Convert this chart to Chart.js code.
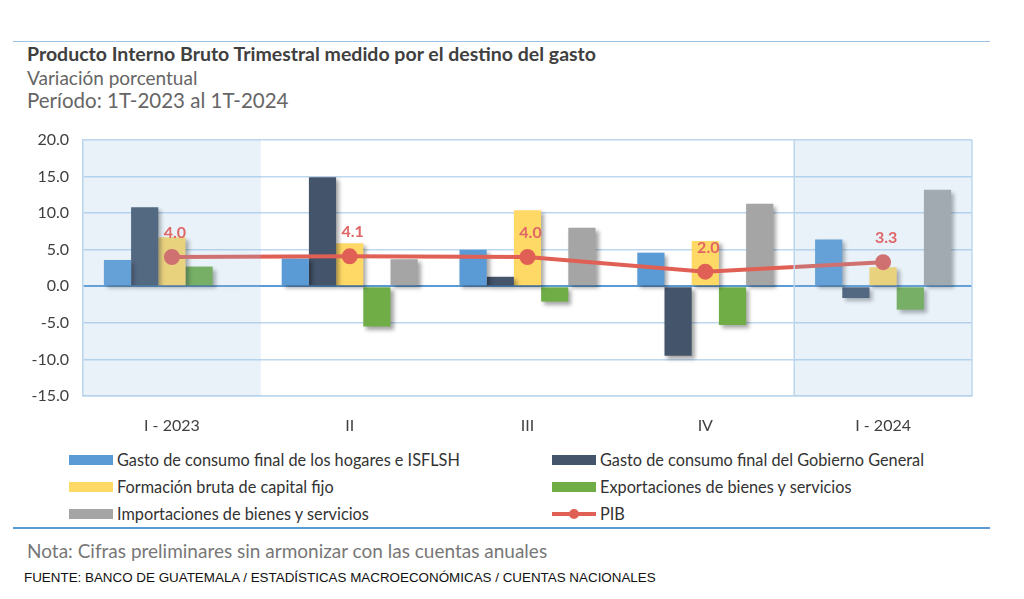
<!DOCTYPE html>
<html>
<head>
<meta charset="utf-8">
<script src="https://cdn.jsdelivr.net/npm/chart.js@4.4.1/dist/chart.umd.min.js"></script>
<style>
  body { margin: 0; background: #fff; font-family: Lato, "Open Sans", sans-serif; }
  #wrap { position: relative; width: 1024px; height: 599px; overflow: hidden; }
  canvas { position: absolute; left: 0; top: 0; }
  .rule { position: absolute; left: 13px; width: 977px; }
  .txt { position: absolute; white-space: nowrap; }
  .leg { position: absolute; display: flex; align-items: center; font-size: 16.3px; color: #333; white-space: nowrap; }
  .sw { width: 44px; height: 10px; margin-right: 4px; }
</style>
</head>
<body>
<div id="wrap">
  <div class="rule" style="top:41px;height:1px;background:#9DC3E6"></div>
  <div class="txt" style="left:27px;top:42px;font-size:19.5px;font-weight:bold;color:#404040">Producto Interno Bruto Trimestral medido por el destino del gasto</div>
  <div class="txt" style="left:27px;top:66px;font-size:19px;color:#666">Variación porcentual</div>
  <div class="txt" style="left:27px;top:88px;font-size:20.5px;color:#666">Período: 1T-2023 al 1T-2024</div>

  <canvas id="pib-chart" width="1024" height="440"></canvas>

  <div class="leg" style="left:69px;top:450px"><span class="sw" style="background:#5B9BD5"></span>Gasto de consumo final de los hogares e ISFLSH</div>
  <div class="leg" style="left:552px;top:450px"><span class="sw" style="background:#44546A"></span>Gasto de consumo final del Gobierno General</div>
  <div class="leg" style="left:69px;top:477px"><span class="sw" style="background:#FFD966"></span>Formación bruta de capital fijo</div>
  <div class="leg" style="left:552px;top:477px"><span class="sw" style="background:#70AD47"></span>Exportaciones de bienes y servicios</div>
  <div class="leg" style="left:69px;top:504px"><span class="sw" style="background:#A5A5A5"></span>Importaciones de bienes y servicios</div>
  <div class="leg" style="left:552px;top:504px"><span class="sw" style="height:4px;background:#E06055;position:relative"><span style="position:absolute;left:17px;top:-3px;width:10px;height:10px;border-radius:50%;background:#E06055"></span></span>PIB</div>

  <div class="rule" style="top:527px;height:2px;background:#5B9BD5"></div>
  <div class="txt" style="left:27px;top:539px;font-size:19px;color:#777">Nota: Cifras preliminares sin armonizar con las cuentas anuales</div>
  <div class="txt" style="left:24px;top:570px;font-size:13.4px;color:#111;font-family:'Liberation Sans Narrow','Liberation Sans',sans-serif">FUENTE: BANCO DE GUATEMALA / ESTADÍSTICAS MACROECONÓMICAS / CUENTAS NACIONALES</div>
</div>

<script>
// PIB trimestral por destino del gasto, variacion %

const quarters = ['I - 2023', 'II', 'III', 'IV', 'I - 2024'];

const hogares = [3.6, 3.8, 5.0, 4.6, 6.4];
const gobierno = [10.8, 14.9, 1.3, -9.5, -1.6];
const capitalFijo = [6.7, 5.9, 10.4, 6.2, 2.6];
const exportaciones = [2.7, -5.5, -2.1, -5.3, -3.2];
const importaciones = [0.1, 3.7, 8.0, 11.3, 13.2];
const pib = [4.0, 4.1, 4.0, 2.0, 3.3];

const yMin = -15;
const yMax = 20;
const yStep = 5;

// quarters shaded in light blue
const shaded = [0, 4];

const gridBlue = '#BDD7EE';

const bar = (label, values, color) => ({
    type: 'bar',
    label: label,
    data: values,
    backgroundColor: color,
    borderWidth: 0,
    barPercentage: 1,
    categoryPercentage: 0.765,
    order: 1
});

const decor = {
    id: 'decor',
    beforeDatasetDraw(chart, args) {
        if (args.meta.type !== 'bar') return;
        const ctx = chart.ctx;
        ctx.save();
        ctx.shadowColor = 'rgba(0,0,0,0.35)';
        ctx.shadowBlur = 4;
        ctx.shadowOffsetX = 3;
        ctx.shadowOffsetY = 3;
    },
    afterDatasetDraw(chart, args) {
        if (args.meta.type !== 'bar') return;
        chart.ctx.restore();
    },
    afterDatasetsDraw(chart) {
        const ctx = chart.ctx;
        const area = chart.chartArea;
        const x = chart.scales.x;
        const w = area.width / quarters.length;

        ctx.save();
        ctx.fillStyle = 'rgba(147,185,225,0.2)';
        shaded.forEach(i => {
            const cx = x.getPixelForValue(i);
            ctx.fillRect(cx - w / 2, area.top, w, area.bottom - area.top);
        });

        // right border and separator before last quarter
        ctx.strokeStyle = gridBlue;
        ctx.lineWidth = 1.5;
        ctx.beginPath();
        const sep = x.getPixelForValue(4) - w / 2;
        ctx.moveTo(sep, area.top);
        ctx.lineTo(sep, area.bottom);
        ctx.moveTo(area.right, area.top);
        ctx.lineTo(area.right, area.bottom);
        ctx.stroke();

        // PIB labels
        const meta = chart.getDatasetMeta(5);
        ctx.fillStyle = '#E06666';
        ctx.font = 'bold 16px Lato';
        ctx.textAlign = 'center';
        ctx.textBaseline = 'middle';
        meta.data.forEach((pt, i) => {
            ctx.fillText(pib[i].toFixed(1), pt.x + 3, pt.y - 24);
        });
        ctx.restore();
    }
};

const config = {
    data: {
        labels: quarters,
        datasets: [
            bar('Gasto de consumo final de los hogares e ISFLSH', hogares, '#5B9BD5'),
            bar('Gasto de consumo final del Gobierno General', gobierno, '#44546A'),
            bar('Formación bruta de capital fijo', capitalFijo, '#FFD966'),
            bar('Exportaciones de bienes y servicios', exportaciones, '#70AD47'),
            bar('Importaciones de bienes y servicios', importaciones, '#A5A5A5'),
            {
                type: 'line',
                label: 'PIB',
                data: pib,
                borderColor: '#E06055',
                backgroundColor: '#E06055',
                borderWidth: 4,
                pointRadius: 6,
                pointHoverRadius: 6,
                tension: 0,
                order: 0
            }
        ]
    },
    options: {
        responsive: false,
        animation: false,
        devicePixelRatio: 1,
        layout: {
            padding: { top: 140, right: 52, bottom: 0, left: 0 }
        },
        plugins: {
            legend: { display: false },
            tooltip: { enabled: false }
        },
        scales: {
            x: {
                grid: { display: false },
                border: { color: gridBlue, width: 1.5 },
                ticks: { color: '#404040', font: { family: 'Lato', size: 16 }, padding: 12 },
                afterFit: s => { s.height = 44; }
            },
            y: {
                min: yMin,
                max: yMax,
                ticks: {
                    stepSize: yStep,
                    color: '#404040',
                    font: { family: 'Lato', size: 16 },
                    padding: 14,
                    callback: v => v.toFixed(1)
                },
                grid: {
                    drawTicks: false,
                    color: c => c.tick.value === 0 ? '#5B9BD5' : gridBlue,
                    lineWidth: c => c.tick.value === 0 ? 2 : 1.5
                },
                border: { color: gridBlue, width: 1.5 },
                afterFit: s => { s.width = 83; }
            }
        }
    },
    plugins: [decor]
};

var pibChart = new Chart(document.getElementById('pib-chart'), config);
</script>
</body>
</html>
